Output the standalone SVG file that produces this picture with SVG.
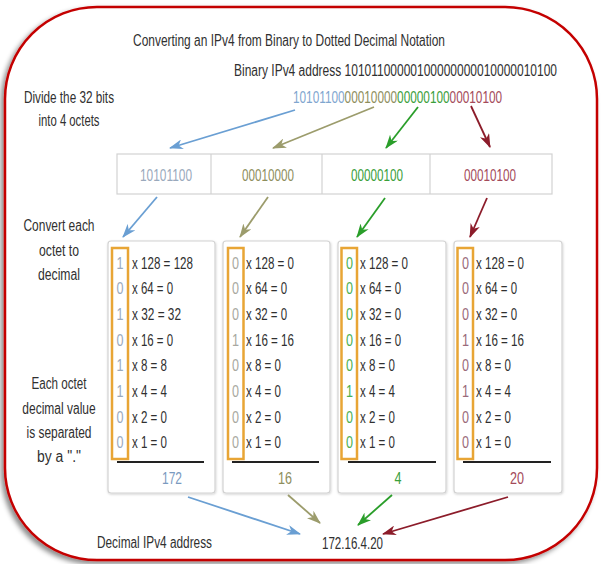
<svg xmlns="http://www.w3.org/2000/svg" width="601" height="564" viewBox="0 0 601 564">
<defs>
  <filter id="outerShadow" x="-5%" y="-5%" width="110%" height="110%">
    <feDropShadow dx="-3" dy="3" stdDeviation="2.5" flood-color="#000" flood-opacity="0.45"/>
  </filter>
  <filter id="boxShadow" x="-5%" y="-5%" width="110%" height="110%">
    <feDropShadow dx="0.5" dy="1" stdDeviation="1" flood-color="#000" flood-opacity="0.18"/>
  </filter>
  <marker id="mBlue" viewBox="0 0 14 10" refX="13" refY="5" markerWidth="14" markerHeight="10" markerUnits="userSpaceOnUse" orient="auto"><path d="M0,0 L14,5 L0,10 L4,5 z" fill="#6a9fd3"/></marker>
  <marker id="mOlive" viewBox="0 0 14 10" refX="13" refY="5" markerWidth="14" markerHeight="10" markerUnits="userSpaceOnUse" orient="auto"><path d="M0,0 L14,5 L0,10 L4,5 z" fill="#9c9c6c"/></marker>
  <marker id="mGreen" viewBox="0 0 14 10" refX="13" refY="5" markerWidth="14" markerHeight="10" markerUnits="userSpaceOnUse" orient="auto"><path d="M0,0 L14,5 L0,10 L4,5 z" fill="#2a9e2a"/></marker>
  <marker id="mRed" viewBox="0 0 14 10" refX="13" refY="5" markerWidth="14" markerHeight="10" markerUnits="userSpaceOnUse" orient="auto"><path d="M0,0 L14,5 L0,10 L4,5 z" fill="#8c1c2a"/></marker>
</defs>
<style>
  text { font-family: "Liberation Sans", Arial, sans-serif; font-size: 16px; fill: #303030; }
  .mid { text-anchor: middle; }
  .cb { fill: #7fa6cf; } .co { fill: #8e8e5c; } .cg { fill: #3aa03a; } .cr { fill: #a44a5a; }
  .db { fill: #9aa9bc; } .do { fill: #a8a8a0; } .dg { fill: #4caf50; } .dr { fill: #9a6a7a; }
  .box { fill: #fff; stroke: #d2d2d2; stroke-width: 1.2; }
  .bits { fill: none; stroke: #e8a535; stroke-width: 2.5; }
  .rule { stroke: #222; stroke-width: 2; }
  .arr { fill: none; stroke-width: 1.8; }
  .ab { stroke: #6a9fd3; } .ao { stroke: #9c9c6c; } .ag { stroke: #2a9e2a; } .ar { stroke: #8c1c2a; }
</style>
<rect width="601" height="564" fill="#fff"/>
<g id="frame">
  <rect x="5" y="7" width="592" height="553" rx="92" ry="92" fill="#fff" stroke="#c40000" stroke-width="2.5" filter="url(#outerShadow)"/>
</g>

<g id="title">
  <text x="289" y="46" class="mid" textLength="312" lengthAdjust="spacingAndGlyphs">Converting an IPv4 from Binary to Dotted Decimal Notation</text>
</g>
<g id="binary-address">
  <text transform="translate(234,75.5) scale(0.75,1)" x="0" y="0">Binary IPv4 address 10101100000100000000010000010100</text>
</g>
<g id="colored-binary">
  <text transform="translate(293,102.5) scale(0.738,1)" x="0" y="0"><tspan class="cb">10101100</tspan><tspan class="co">00010000</tspan><tspan class="cg">00000100</tspan><tspan class="cr">00010100</tspan></text>
</g>
<g id="label-divide">
  <text x="69" y="102.5" class="mid" textLength="90" lengthAdjust="spacingAndGlyphs">Divide the 32 bits</text>
  <text x="69" y="126" class="mid" textLength="61" lengthAdjust="spacingAndGlyphs">into 4 octets</text>
</g>
<g id="label-convert">
  <text x="59" y="230.5" class="mid" textLength="71" lengthAdjust="spacingAndGlyphs">Convert each</text>
  <text x="59" y="255.5" class="mid" textLength="40" lengthAdjust="spacingAndGlyphs">octet to</text>
  <text x="59" y="279.5" class="mid" textLength="42" lengthAdjust="spacingAndGlyphs">decimal</text>
</g>
<g id="label-separated">
  <text x="59" y="388.5" class="mid" textLength="55" lengthAdjust="spacingAndGlyphs">Each octet</text>
  <text transform="translate(59,413.5) scale(0.75,1)" x="0" y="0" class="mid">decimal value</text>
  <text x="59" y="437.5" class="mid" textLength="65" lengthAdjust="spacingAndGlyphs">is separated</text>
  <text x="59" y="462" class="mid" textLength="44" lengthAdjust="spacingAndGlyphs">by a "."</text>
</g>

<g id="octet-row">
  <rect x="117" y="154" width="435" height="40" class="box"/>
  <line x1="211" y1="154" x2="211" y2="194" stroke="#d2d2d2" stroke-width="1.2"/>
  <line x1="322" y1="154" x2="322" y2="194" stroke="#d2d2d2" stroke-width="1.2"/>
  <line x1="430" y1="154" x2="430" y2="194" stroke="#d2d2d2" stroke-width="1.2"/>
  <text x="166" y="180.5" class="mid db" textLength="52" lengthAdjust="spacingAndGlyphs">10101100</text>
  <text x="268" y="180.5" class="mid co" textLength="52" lengthAdjust="spacingAndGlyphs">00010000</text>
  <text x="377" y="180.5" class="mid cg" textLength="52" lengthAdjust="spacingAndGlyphs">00000100</text>
  <text x="490" y="180.5" class="mid cr" textLength="52" lengthAdjust="spacingAndGlyphs">00010100</text>
</g>

<g id="octet1">
  <rect x="108" y="241" width="107" height="252" rx="3" class="box" filter="url(#boxShadow)"/>
  <rect x="112" y="248" width="16" height="211" class="bits"/>
  <text x="120" y="268.5" class="mid db" textLength="7" lengthAdjust="spacingAndGlyphs">1</text>
  <text x="120" y="294.2" class="mid db" textLength="7" lengthAdjust="spacingAndGlyphs">0</text>
  <text x="120" y="319.9" class="mid db" textLength="7" lengthAdjust="spacingAndGlyphs">1</text>
  <text x="120" y="345.6" class="mid db" textLength="7" lengthAdjust="spacingAndGlyphs">0</text>
  <text x="120" y="371.3" class="mid db" textLength="7" lengthAdjust="spacingAndGlyphs">1</text>
  <text x="120" y="397" class="mid db" textLength="7" lengthAdjust="spacingAndGlyphs">1</text>
  <text x="120" y="422.7" class="mid db" textLength="7" lengthAdjust="spacingAndGlyphs">0</text>
  <text x="120" y="448.4" class="mid db" textLength="7" lengthAdjust="spacingAndGlyphs">0</text>
  <text x="132" y="268.5" textLength="61" lengthAdjust="spacingAndGlyphs">x 128 = 128</text>
  <text x="132" y="294.2" textLength="41" lengthAdjust="spacingAndGlyphs">x 64 = 0</text>
  <text x="132" y="319.9" textLength="49" lengthAdjust="spacingAndGlyphs">x 32 = 32</text>
  <text x="132" y="345.6" textLength="41" lengthAdjust="spacingAndGlyphs">x 16 = 0</text>
  <text x="132" y="371.3" textLength="35" lengthAdjust="spacingAndGlyphs">x 8 = 8</text>
  <text x="132" y="397" textLength="35" lengthAdjust="spacingAndGlyphs">x 4 = 4</text>
  <text x="132" y="422.7" textLength="35" lengthAdjust="spacingAndGlyphs">x 2 = 0</text>
  <text x="132" y="448.4" textLength="35" lengthAdjust="spacingAndGlyphs">x 1 = 0</text>
  <line x1="117" y1="462" x2="204" y2="462" class="rule"/>
  <text x="172" y="483.5" class="mid" style="fill:#7a9ac0" textLength="20" lengthAdjust="spacingAndGlyphs">172</text>
</g>

<g id="octet2">
  <rect x="223" y="241" width="107" height="252" rx="3" class="box" filter="url(#boxShadow)"/>
  <rect x="228" y="248" width="15.5" height="211" class="bits"/>
  <text x="235.5" y="268.5" class="mid do" textLength="7" lengthAdjust="spacingAndGlyphs">0</text>
  <text x="235.5" y="294.2" class="mid do" textLength="7" lengthAdjust="spacingAndGlyphs">0</text>
  <text x="235.5" y="319.9" class="mid do" textLength="7" lengthAdjust="spacingAndGlyphs">0</text>
  <text x="235.5" y="345.6" class="mid do" textLength="7" lengthAdjust="spacingAndGlyphs">1</text>
  <text x="235.5" y="371.3" class="mid do" textLength="7" lengthAdjust="spacingAndGlyphs">0</text>
  <text x="235.5" y="397" class="mid do" textLength="7" lengthAdjust="spacingAndGlyphs">0</text>
  <text x="235.5" y="422.7" class="mid do" textLength="7" lengthAdjust="spacingAndGlyphs">0</text>
  <text x="235.5" y="448.4" class="mid do" textLength="7" lengthAdjust="spacingAndGlyphs">0</text>
  <text x="246" y="268.5" textLength="48" lengthAdjust="spacingAndGlyphs">x 128 = 0</text>
  <text x="246" y="294.2" textLength="41" lengthAdjust="spacingAndGlyphs">x 64 = 0</text>
  <text x="246" y="319.9" textLength="41" lengthAdjust="spacingAndGlyphs">x 32 = 0</text>
  <text x="246" y="345.6" textLength="48" lengthAdjust="spacingAndGlyphs">x 16 = 16</text>
  <text x="246" y="371.3" textLength="35" lengthAdjust="spacingAndGlyphs">x 8 = 0</text>
  <text x="246" y="397" textLength="35" lengthAdjust="spacingAndGlyphs">x 4 = 0</text>
  <text x="246" y="422.7" textLength="35" lengthAdjust="spacingAndGlyphs">x 2 = 0</text>
  <text x="246" y="448.4" textLength="35" lengthAdjust="spacingAndGlyphs">x 1 = 0</text>
  <line x1="232" y1="462" x2="319" y2="462" class="rule"/>
  <text x="285" y="483.5" class="mid co" textLength="14" lengthAdjust="spacingAndGlyphs">16</text>
</g>

<g id="octet3">
  <rect x="338" y="241" width="108" height="252" rx="3" class="box" filter="url(#boxShadow)"/>
  <rect x="341.5" y="248" width="15.5" height="211" class="bits"/>
  <text x="349.5" y="268.5" class="mid dg" textLength="7" lengthAdjust="spacingAndGlyphs">0</text>
  <text x="349.5" y="294.2" class="mid dg" textLength="7" lengthAdjust="spacingAndGlyphs">0</text>
  <text x="349.5" y="319.9" class="mid dg" textLength="7" lengthAdjust="spacingAndGlyphs">0</text>
  <text x="349.5" y="345.6" class="mid dg" textLength="7" lengthAdjust="spacingAndGlyphs">0</text>
  <text x="349.5" y="371.3" class="mid dg" textLength="7" lengthAdjust="spacingAndGlyphs">0</text>
  <text x="349.5" y="397" class="mid dg" textLength="7" lengthAdjust="spacingAndGlyphs">1</text>
  <text x="349.5" y="422.7" class="mid dg" textLength="7" lengthAdjust="spacingAndGlyphs">0</text>
  <text x="349.5" y="448.4" class="mid dg" textLength="7" lengthAdjust="spacingAndGlyphs">0</text>
  <text x="360" y="268.5" textLength="48" lengthAdjust="spacingAndGlyphs">x 128 = 0</text>
  <text x="360" y="294.2" textLength="41" lengthAdjust="spacingAndGlyphs">x 64 = 0</text>
  <text x="360" y="319.9" textLength="41" lengthAdjust="spacingAndGlyphs">x 32 = 0</text>
  <text x="360" y="345.6" textLength="41" lengthAdjust="spacingAndGlyphs">x 16 = 0</text>
  <text x="360" y="371.3" textLength="35" lengthAdjust="spacingAndGlyphs">x 8 = 0</text>
  <text x="360" y="397" textLength="35" lengthAdjust="spacingAndGlyphs">x 4 = 4</text>
  <text x="360" y="422.7" textLength="35" lengthAdjust="spacingAndGlyphs">x 2 = 0</text>
  <text x="360" y="448.4" textLength="35" lengthAdjust="spacingAndGlyphs">x 1 = 0</text>
  <line x1="348" y1="462" x2="436" y2="462" class="rule"/>
  <text x="398" y="483.5" class="mid cg" textLength="7" lengthAdjust="spacingAndGlyphs">4</text>
</g>

<g id="octet4">
  <rect x="454" y="241" width="108" height="252" rx="3" class="box" filter="url(#boxShadow)"/>
  <rect x="457.5" y="248" width="15.5" height="211" class="bits"/>
  <text x="465.5" y="268.5" class="mid dr" textLength="7" lengthAdjust="spacingAndGlyphs">0</text>
  <text x="465.5" y="294.2" class="mid dr" textLength="7" lengthAdjust="spacingAndGlyphs">0</text>
  <text x="465.5" y="319.9" class="mid dr" textLength="7" lengthAdjust="spacingAndGlyphs">0</text>
  <text x="465.5" y="345.6" class="mid dr" textLength="7" lengthAdjust="spacingAndGlyphs">1</text>
  <text x="465.5" y="371.3" class="mid dr" textLength="7" lengthAdjust="spacingAndGlyphs">0</text>
  <text x="465.5" y="397" class="mid dr" textLength="7" lengthAdjust="spacingAndGlyphs">1</text>
  <text x="465.5" y="422.7" class="mid dr" textLength="7" lengthAdjust="spacingAndGlyphs">0</text>
  <text x="465.5" y="448.4" class="mid dr" textLength="7" lengthAdjust="spacingAndGlyphs">0</text>
  <text x="476" y="268.5" textLength="48" lengthAdjust="spacingAndGlyphs">x 128 = 0</text>
  <text x="476" y="294.2" textLength="41" lengthAdjust="spacingAndGlyphs">x 64 = 0</text>
  <text x="476" y="319.9" textLength="41" lengthAdjust="spacingAndGlyphs">x 32 = 0</text>
  <text x="476" y="345.6" textLength="48" lengthAdjust="spacingAndGlyphs">x 16 = 16</text>
  <text x="476" y="371.3" textLength="35" lengthAdjust="spacingAndGlyphs">x 8 = 0</text>
  <text x="476" y="397" textLength="35" lengthAdjust="spacingAndGlyphs">x 4 = 4</text>
  <text x="476" y="422.7" textLength="35" lengthAdjust="spacingAndGlyphs">x 2 = 0</text>
  <text x="476" y="448.4" textLength="35" lengthAdjust="spacingAndGlyphs">x 1 = 0</text>
  <line x1="463" y1="462" x2="551" y2="462" class="rule"/>
  <text x="517" y="483.5" class="mid cr" textLength="14" lengthAdjust="spacingAndGlyphs">20</text>
</g>

<g id="result">
  <text x="97" y="547.5" textLength="115" lengthAdjust="spacingAndGlyphs">Decimal IPv4 address</text>
  <text x="322" y="548.5" textLength="61" lengthAdjust="spacingAndGlyphs">172.16.4.20</text>
</g>

<g id="connectors">
  <line x1="295" y1="110" x2="170" y2="148" class="arr ab" marker-end="url(#mBlue)"/>
  <line x1="374" y1="107" x2="273" y2="148" class="arr ao" marker-end="url(#mOlive)"/>
  <line x1="418" y1="107" x2="386" y2="148" class="arr ag" marker-end="url(#mGreen)"/>
  <line x1="471" y1="106" x2="490" y2="147" class="arr ar" marker-end="url(#mRed)"/>

  <line x1="157" y1="197" x2="123" y2="237" class="arr ab" marker-end="url(#mBlue)"/>
  <line x1="268" y1="197" x2="240" y2="237" class="arr ao" marker-end="url(#mOlive)"/>
  <line x1="385" y1="198" x2="357" y2="237" class="arr ag" marker-end="url(#mGreen)"/>
  <line x1="487" y1="198" x2="470" y2="237" class="arr ar" marker-end="url(#mRed)"/>

  <line x1="188" y1="497" x2="300" y2="534" class="arr ab" marker-end="url(#mBlue)"/>
  <line x1="288" y1="495" x2="320" y2="523" class="arr ao" marker-end="url(#mOlive)"/>
  <line x1="392" y1="495" x2="358" y2="525" class="arr ag" marker-end="url(#mGreen)"/>
  <line x1="508" y1="497" x2="383" y2="534" class="arr ar" marker-end="url(#mRed)"/>
</g>
</svg>
